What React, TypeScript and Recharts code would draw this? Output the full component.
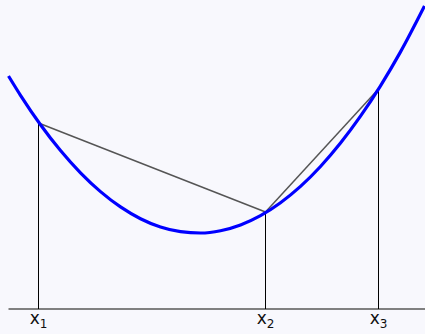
import { ComposedChart, Line, XAxis, YAxis, ReferenceLine, Scatter } from "recharts";

// values are in plot units (x right, y up)
const curveX = [8, 20, 40, 60, 80, 100, 120, 140, 160, 180, 200, 220, 240, 260, 280, 300, 320, 340, 360, 380, 400, 424];
const curveY = [258, 238.7, 209.3, 183.5, 161.2, 142.4, 127.1, 115.3, 107, 102.3, 101, 103.3, 109.1, 118.4, 131.3, 147.6, 167.5, 190.9, 217.8, 248.2, 282.1, 328];

const pointNames = ["1", "2", "3"];
const pointX = [38, 265, 378];
const pointY = [211, 122, 245];

const axisY = 25;
const axisStart = 8;
const axisEnd = 425;
const labelY = 10;

const curve = curveX.map((x, i) => ({ x, y: curveY[i] }));
const labels = pointX.map((x, i) => ({ x, y: labelY, name: pointNames[i] }));

const SubLabel = (props: any) => {
  const { cx, cy, payload } = props;
  return (
    <text x={cx} y={cy} textAnchor="middle" fontFamily="DejaVu Sans, sans-serif" fill="#111">
      <tspan fontSize={17}>x</tspan>
      <tspan fontSize={12} dy={4}>{payload.name}</tspan>
    </text>
  );
};

export default function App() {
  return (
    <div style={{ position: "fixed", left: 0, top: 0, width: 425, height: 334, background: "#f8f8fd" }}>
      <ComposedChart width={425} height={334} margin={{ top: 0, right: 0, bottom: 0, left: 0 }}>
        <XAxis type="number" dataKey="x" domain={[-0.5, 424.5]} hide allowDataOverflow />
        <YAxis type="number" dataKey="y" domain={[0, 334]} hide allowDataOverflow />
        <ReferenceLine
          segment={[{ x: axisStart, y: axisY }, { x: axisEnd, y: axisY }]}
          stroke="#808080"
          strokeWidth={2}
          ifOverflow="visible"
        />
        {pointX.map((x, i) => (
          <ReferenceLine
            key={"v" + i}
            segment={[{ x, y: axisY }, { x, y: pointY[i] }]}
            stroke="#000"
            strokeWidth={1}
            ifOverflow="visible"
          />
        ))}
        <ReferenceLine
          segment={[{ x: pointX[0], y: pointY[0] }, { x: pointX[1], y: pointY[1] }]}
          stroke="#555"
          strokeWidth={1.5}
          ifOverflow="visible"
        />
        <ReferenceLine
          segment={[{ x: pointX[1], y: pointY[1] }, { x: pointX[2], y: pointY[2] }]}
          stroke="#555"
          strokeWidth={1.5}
          ifOverflow="visible"
        />
        <Line
          data={curve}
          dataKey="y"
          type="monotone"
          stroke="#0000ff"
          strokeWidth={3.2}
          dot={false}
          activeDot={false}
          legendType="none"
          isAnimationActive={false}
        />
        <Scatter data={labels} dataKey="y" shape={<SubLabel />} isAnimationActive={false} />
      </ComposedChart>
    </div>
  );
}
